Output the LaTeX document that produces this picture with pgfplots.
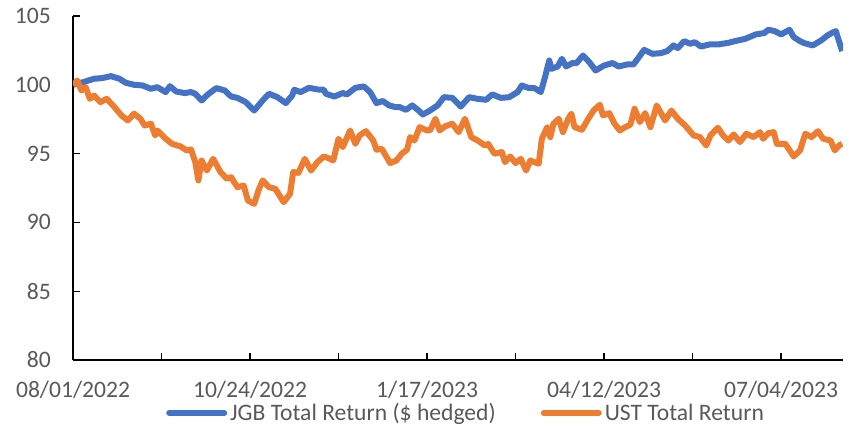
\documentclass[border=0pt]{standalone}
\usepackage{fontspec}
\setmainfont{Carlito}
\usepackage{pgfplots}
\pgfplotsset{compat=1.18}
\definecolor{jgb}{HTML}{4472C4}
\definecolor{ust}{HTML}{ED7D31}
\definecolor{txt}{HTML}{595959}
\begin{document}
\begin{tikzpicture}
\path[use as bounding box] (-73pt,-67pt) rectangle (782pt,360pt);
\begin{axis}[
 scale only axis, width=770pt, height=344pt,
 xmin=0, xmax=365.4, ymin=80, ymax=105,
 axis x line*=bottom, axis y line*=left,
 axis line style={line width=1.2pt, black},
 tick align=inside,
 major tick length=7pt, minor tick length=7pt,
 every tick/.style={black, line width=1.2pt},
 xtick={0,84,168,252,336},
 xticklabels={08/01/2022,10/24/2022,1/17/2023,04/12/2023,07/04/2023},
 minor xtick={42,126,210,294},
 ytick={80,85,...,105},
 /pgf/number format/assume math mode=true,
 tick label style={font=\fontsize{23.6}{28}\selectfont, text=txt},
 yticklabel style={anchor=east, inner sep=0pt, xshift=-22pt},
 xticklabel style={anchor=base, inner sep=0pt, yshift=-38pt},
 legend columns=-1,
 legend cell align=left,
 legend style={draw=none, fill=none, at={(0,0)}, anchor=west, xshift=90pt, yshift=-53pt,
   font=\fontsize{23.6}{28}\selectfont, text=txt,
   /tikz/every odd column/.append style={column sep=3pt},
   /tikz/every even column/.append style={column sep=45pt},
   nodes={inner sep=0pt}},
 legend image code/.code={\draw[#1, line cap=round] (0pt,0pt) -- (55pt,0pt);},
]
\addplot[jgb, line width=6pt, line join=round] table {
x y
0 100.0
5 100.2
10 100.44
14 100.49
18 100.63
22 100.44
25 100.15
29 100.0
33 99.95
35 99.83
37 99.71
40 99.83
44 99.47
46 99.9
49 99.51
53 99.4
56 99.47
58 99.35
61 98.86
64 99.3
68 99.76
72 99.59
75 99.15
78 99.05
82 98.74
86 98.13
90 98.86
93 99.35
97 99.1
101 98.67
104 99.22
105 99.64
108 99.47
112 99.78
116 99.66
119 99.64
120 99.35
124 99.15
128 99.40
130 99.30
134 99.78
138 99.88
141 99.47
144 98.67
147 98.82
150 98.5
153 98.38
155 98.38
158 98.18
161 98.5
164 98.13
166 97.84
169 98.09
173 98.5
176 99.1
180 99.05
184 98.42
188 99.1
192 98.98
196 98.91
199 99.3
203 99.05
207 99.1
211 99.47
213 99.95
216 99.78
219 99.76
222 99.47
224 100.56
226 101.77
227 101.16
230 101.33
232 101.89
234 101.33
237 101.58
239 101.58
242 102.13
245 101.65
248 101.04
252 101.4
256 101.58
259 101.33
263 101.48
266 101.48
268 101.89
271 102.54
275 102.25
279 102.3
282 102.45
285 102.86
287 102.67
290 103.17
293 102.98
295 103.1
298 102.78
302 102.93
306 102.93
311 103.05
314 103.17
319 103.34
324 103.66
328 103.76
330 104.0
333 103.9
336 103.66
340 104.0
342 103.47
345 103.17
347 103.03
351 102.86
355 103.22
358 103.58
360 103.76
362 103.9
365 102.45
};
\addlegendentry{JGB Total Return (\$ hedged)}
\addplot[ust, line width=6pt, line join=round] table {
x y
0 100.0
2 100.31
4 99.59
6 99.83
8 98.98
10 99.22
13 98.74
16 98.98
19 98.5
23 97.77
26 97.41
29 97.9
32 97.53
34 97.04
37 97.17
39 96.32
40 96.68
44 96.08
47 95.71
51 95.52
54 95.23
56 95.3
58 94.4
59.5 93.05
61 94.5
63.5 93.77
66.5 94.62
70 93.66
73 93.17
75 93.29
78 92.56
81 92.68
83 91.59
86 91.35
88 92.32
90 93.05
93 92.56
96 92.44
100 91.47
103 92.08
104.5 93.66
107 93.6
110 94.62
113 93.77
116 94.38
119 94.79
122 94.62
123.5 94.5
126 96.08
128 95.47
131.5 96.68
134 95.71
136 96.32
139 96.63
142.5 95.95
144 95.28
146.5 95.35
150.5 94.31
153.5 94.5
156 94.99
158.5 95.28
160 96.2
162 95.95
164.5 96.92
168 96.68
169.5 96.7
172 97.53
174 96.68
176.5 96.98
180 97.17
183 96.56
186 97.53
189 96.2
192 95.95
195.5 95.59
197 95.7
200 94.99
203.5 95.11
205 94.38
207.5 94.79
210 94.31
212.5 94.62
215 93.77
217 94.5
221 94.26
222.5 96.08
225 96.92
226.5 96.2
228 97.17
230.5 97.53
232.5 96.56
235 97.53
236.5 97.9
238 96.92
241.5 96.73
244.5 97.53
247 98.13
250 98.55
251.5 97.77
254.5 97.94
257 97.17
259.5 96.68
262 96.92
264.5 97.1
266.5 98.26
269 97.29
271.5 97.94
274 96.92
277 98.5
281 97.41
284 98.13
287 97.53
290.5 97.04
294.5 96.32
297.5 96.2
300.5 95.59
302.5 96.32
306 96.88
308.5 96.32
311 95.95
313.5 96.39
316.5 95.84
319.5 96.44
323 96.2
326 96.56
327.5 96.08
330 96.49
332.5 96.56
334 95.71
338 95.71
342 94.79
345 95.23
347.5 96.44
350.5 96.2
353.5 96.63
356 96.08
359.5 95.95
361.5 95.23
363.5 95.59
365 95.71
};
\addlegendentry{UST Total Return}
\end{axis}
\end{tikzpicture}
\end{document}
